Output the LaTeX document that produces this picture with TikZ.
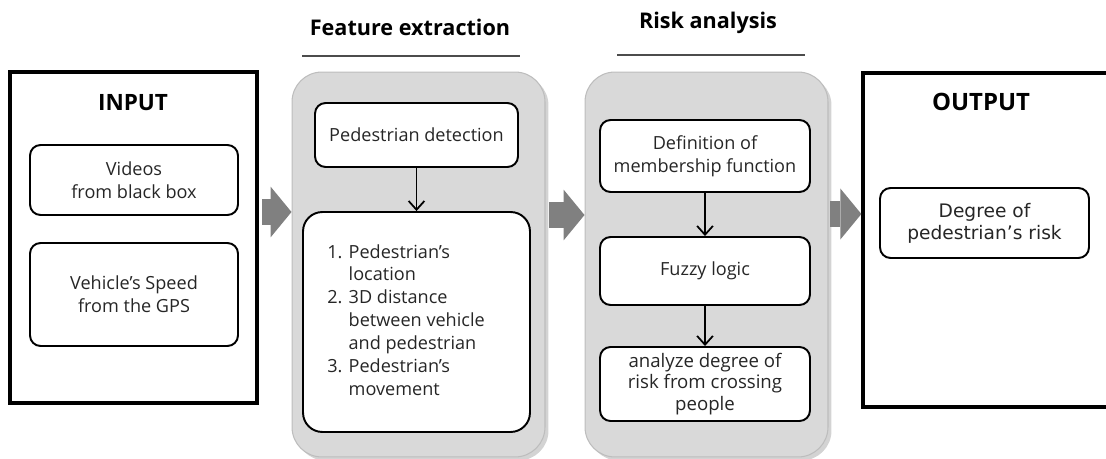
\documentclass[tikz,border=0pt]{standalone}
\usepackage{fontspec}
\setmainfont{Open Sans}
\newfontfamily\verdanafont{DejaVu Sans}
\usetikzlibrary{arrows.meta,shadows}

\definecolor{panelgray}{HTML}{D9D9D9}
\definecolor{panelline}{HTML}{BDBDBD}
\definecolor{arrowgray}{HTML}{808080}

\tikzstyle{frame} = [draw=black, line width=1.9pt, fill=white]
\tikzstyle{panel} = [draw=panelline, fill=panelgray, rounded corners=17pt, line width=0.6pt, drop shadow={opacity=0.35, shadow xshift=2pt, shadow yshift=-2pt}]
\tikzstyle{box} = [draw=black, fill=white, rounded corners=6pt, line width=1.1pt, align=center, text=black!85, font=\fontsize{10.3}{13}\selectfont]
\tikzstyle{title} = [text=black, font=\bfseries\fontsize{12.3}{14}\selectfont]
\tikzstyle{flow} = [-{Straight Barb[length=5pt,width=9pt]}, line width=1pt]
\tikzstyle{bigarrow} = [draw=arrowgray, line width=0.52cm, -{Triangle[length=0.42cm,width=1.02cm,line width=0pt]}]

\begin{document}
\begin{tikzpicture}[x=0.02cm, y=-0.02cm]
\useasboundingbox (0,0) rectangle (1106,459);

% input side
\node [frame, minimum width=4.94cm, minimum height=6.62cm] (input) at (133.5,237.5) {};
\node [title, font=\bfseries\fontsize{12.8}{14}\selectfont] (intitle) at (133,103) {INPUT};
\node [box, minimum width=4.16cm, minimum height=1.4cm] (video) at (134,180) {Videos\\from black box};
\node [box, minimum width=4.16cm, minimum height=2.06cm] (speed) at (134,294.5) {Vehicle's Speed\\from the GPS};

% feature extraction
\node [title] (fetitle) at (410,27) {Feature extraction};
\draw [black!70, line width=0.6pt] (302,56) -- (520,56);
\node [panel, minimum width=5.06cm, minimum height=7.7cm] (feature) at (418.5,264.5) {};
\node [box, minimum width=4.06cm, minimum height=1.28cm] (detect) at (416.5,135) {Pedestrian detection};
\node [box, rounded corners=11pt, minimum width=4.54cm, minimum height=4.4cm, font=\fontsize{10.3}{13}\selectfont] (list) at (416.5,322)
  {\begin{tabular}{@{}l@{ }l@{}}1. & Pedestrian's\\ & location\\ 2. & 3D distance\\ & between vehicle\\ & and pedestrian\\ 3. & Pedestrian's\\ & movement\end{tabular}\hspace*{0.42cm}};

% risk analysis
\node [title] (ratitle) at (708,23) {Risk analysis};
\draw [black!70, line width=0.6pt] (617,55) -- (805,55);
\node [panel, minimum width=4.86cm, minimum height=7.7cm] (risk) at (706.5,264.5) {};
\node [box, minimum width=4.2cm, minimum height=1.44cm] (member) at (705,156) {Definition of\\membership function};
\node [box, minimum width=4.2cm, minimum height=1.36cm] (fuzzy) at (705,271) {Fuzzy logic};
\node [box, minimum width=4.2cm, minimum height=1.44cm, font=\fontsize{10.6}{12.4}\selectfont] (degree) at (705,384) {analyze degree of\\risk from crossing\\people};

% output side
\node [frame, minimum width=4.92cm, minimum height=6.68cm] (output) at (986,240) {};
\node [title, font=\bfseries\fontsize{13.6}{15}\selectfont] (outtitle) at (981,102) {OUTPUT};
\node [box, minimum width=4.18cm, minimum height=1.4cm, font=\verdanafont\fontsize{10.6}{12.5}\selectfont] (risklevel) at (984.5,223) {Degree of\\pedestrian’s risk};

% big arrows
\coordinate (a1) at (262,212);
\coordinate (a2) at (549,215);
\coordinate (a3) at (830,214);
\draw [bigarrow] (a1) -- (a1 -| feature.west);
\draw [bigarrow] (a2) -- (a2 -| risk.west);
\draw [bigarrow] (a3) -- (a3 -| output.west);

% flow
\draw [flow] (detect) edge (list);
\draw [flow] (member) edge (fuzzy);
\draw [flow] (fuzzy) edge (degree);
\end{tikzpicture}
\end{document}
